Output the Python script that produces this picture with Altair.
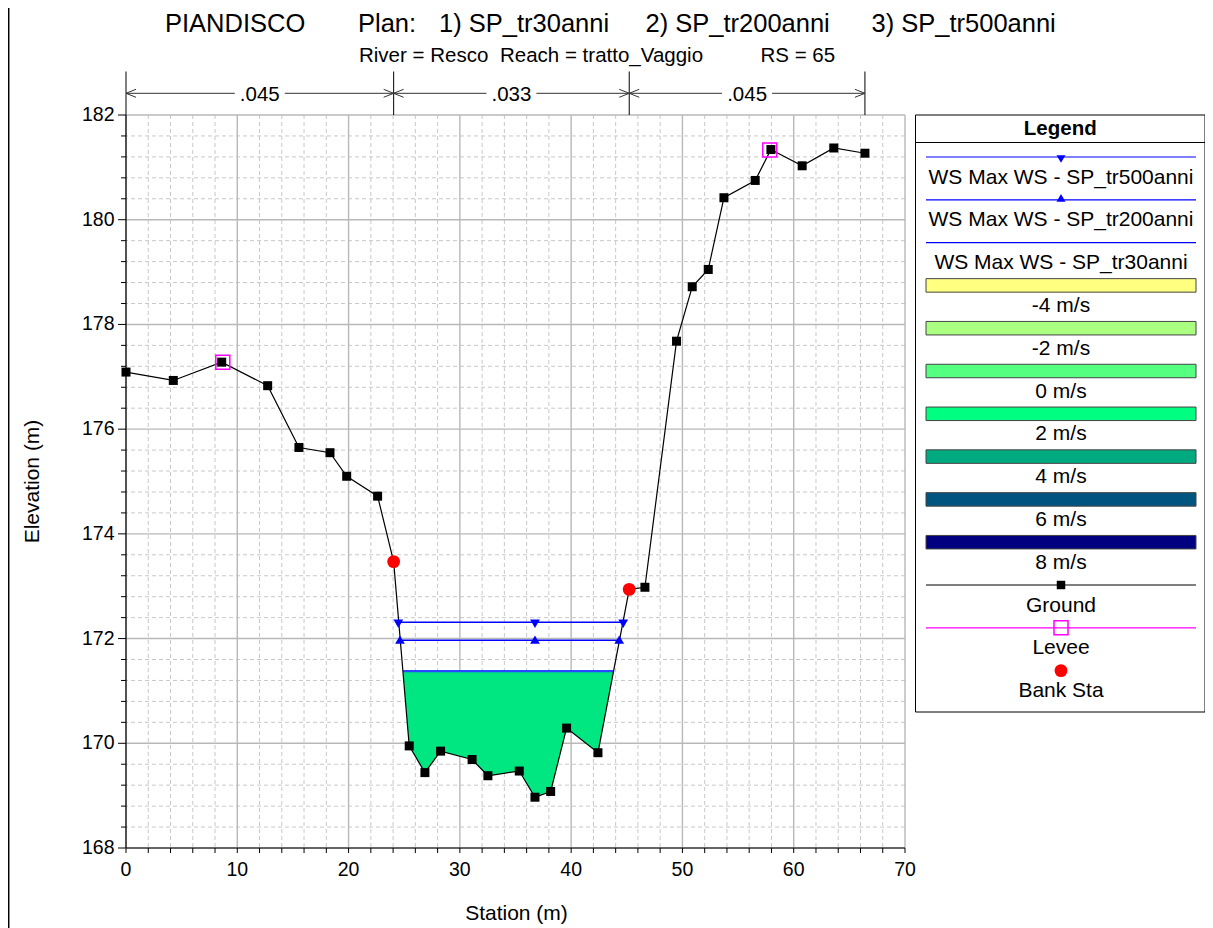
import altair as alt
import pandas as pd

FONT = "Liberation Sans"

# ---------------- data ----------------
ground_station = [0.0, 4.25, 8.6, 12.73, 15.54, 18.33, 19.83, 22.61, 24.05, 25.45,
                  26.86, 28.27, 31.1, 32.52, 35.34, 36.75, 38.16, 39.59, 42.41, 45.22,
                  46.63, 49.47, 50.88, 52.32, 53.73, 56.54, 57.95, 60.76, 63.6, 66.4]
ground_elev = [177.09, 176.93, 177.28, 176.83, 175.65, 175.55, 175.10, 174.72, 173.47, 169.95,
               169.44, 169.85, 169.69, 169.38, 169.47, 168.97, 169.08, 170.29, 169.82, 172.94,
               172.98, 177.68, 178.72, 179.05, 180.42, 180.75, 181.34, 181.03, 181.37, 181.27]
levee_station = [8.7, 57.85]
levee_elev = [177.28, 181.33]
bank_station = [24.05, 45.22]
bank_elev = [173.47, 172.94]
ws_profiles = ["SP_tr30anni", "SP_tr200anni", "SP_tr500anni"]
ws_elev = [171.38, 171.97, 172.31]
ws_left = [24.9, 24.62, 24.47]
ws_right = [43.8, 44.32, 44.68]
ws_marker_mid = 36.75
n_bounds = [0.0, 24.05, 45.22, 66.4]
n_values = [".045", ".033", ".045"]
x_ticks = [0, 10, 20, 30, 40, 50, 60, 70]
y_ticks = [168, 170, 172, 174, 176, 178, 180, 182]
x_minor = [v for v in range(0, 71, 2) if v % 10 != 0]
y_minor = [round(168 + 0.4 * i, 1) for i in range(36) if i % 5 != 0]
velocity_labels = ["-4 m/s", "-2 m/s", "0 m/s", "2 m/s", "4 m/s", "6 m/s", "8 m/s"]
velocity_colors = ["#FFFF80", "#AAFF80", "#55FF80", "#00FF80", "#00AA80", "#005580", "#000080"]
title_parts = ["PIANDISCO", "Plan:", "1) SP_tr30anni", "2) SP_tr200anni", "3) SP_tr500anni"]
subtitle_parts = ["River = Resco", "Reach = tratto_Vaggio", "RS = 65"]
x_title = "Station (m)"
y_title = "Elevation (m)"

# ---------------- layout (pixels, relative to plot origin) ----------------
W, H = 779, 733
PAD = {"left": 118, "top": 107, "right": 300, "bottom": 80}
title_x = [39, 232, 313, 519.5, 745.5]
subtitle_x = [233, 374, 634.5]

xs = alt.Scale(domain=[0, 70], nice=False, zero=False)
ys = alt.Scale(domain=[168, 182], nice=False, zero=False)

one = pd.DataFrame({"a": [0]})


def X(f):
    return alt.X(f, scale=xs, axis=None)


def Y(f):
    return alt.Y(f, scale=ys, axis=None)


def PX(f):
    return alt.X(f, scale=None, axis=None)


def PY(f):
    return alt.Y(f, scale=None, axis=None)


# ---------------- grid ----------------
gx_minor = alt.Chart(pd.DataFrame({"v": x_minor})).mark_rule(
    color="#c8c8c8", strokeDash=[4, 3], strokeWidth=1).encode(x=X("v:Q"))
gy_minor = alt.Chart(pd.DataFrame({"v": y_minor})).mark_rule(
    color="#c8c8c8", strokeDash=[4, 3], strokeWidth=1).encode(y=Y("v:Q"))
gx_major = alt.Chart(pd.DataFrame({"v": x_ticks})).mark_rule(
    color="#b8b8b8", strokeWidth=1.4).encode(x=X("v:Q"))
gy_major = alt.Chart(pd.DataFrame({"v": y_ticks})).mark_rule(
    color="#b8b8b8", strokeWidth=1.4).encode(y=Y("v:Q"))

# ---------------- axes (drawn by hand) ----------------
tx_minor = alt.Chart(pd.DataFrame({"v": x_minor + x_ticks})).mark_rule(color="black").encode(
    x=X("v:Q"), y=alt.value(H), y2=alt.value(H + 5))
ty_minor = alt.Chart(pd.DataFrame({"v": y_minor})).mark_rule(color="black").encode(
    y=Y("v:Q"), x=alt.value(-5), x2=alt.value(0))
ty_major = alt.Chart(pd.DataFrame({"v": y_ticks})).mark_rule(color="black").encode(
    y=Y("v:Q"), x=alt.value(-8), x2=alt.value(0))
x_domain = alt.Chart(one).mark_rule(color="black", strokeWidth=1.2).encode(
    x=alt.value(0), x2=alt.value(W), y=alt.value(H))
y_domain = alt.Chart(one).mark_rule(color="black", strokeWidth=1.2).encode(
    x=alt.value(0), y=alt.value(0), y2=alt.value(H))
x_labels = alt.Chart(pd.DataFrame({"v": x_ticks})).mark_text(
    font=FONT, fontSize=19.5, color="black", align="center", baseline="top").encode(
    x=X("v:Q"), y=alt.value(H + 12.5), text=alt.Text("v:Q", format="d"))
y_labels = alt.Chart(pd.DataFrame({"v": y_ticks})).mark_text(
    font=FONT, fontSize=19.5, color="black", align="right", baseline="middle").encode(
    y=Y("v:Q"), x=alt.value(-11.5), text=alt.Text("v:Q", format="d"))
x_tit = alt.Chart(pd.DataFrame({"t": [x_title]})).mark_text(
    font=FONT, fontSize=21, color="black", align="center", baseline="middle").encode(
    x=alt.value(W / 2 + 1), y=alt.value(799), text="t:N")
y_tit = alt.Chart(pd.DataFrame({"t": [y_title]})).mark_text(
    font=FONT, fontSize=21, color="black", align="center", baseline="middle", angle=270).encode(
    x=alt.value(-93.5), y=alt.value(H / 2), text="t:N")

# ---------------- water ----------------
ground_df = pd.DataFrame({"station": ground_station, "elev": ground_elev,
                          "i": list(range(len(ground_station)))})

fill_st = [ws_left[0]] + [s for s in ground_station if ws_left[0] < s < ws_right[0]] + [ws_right[0]]
fill_el = [ws_elev[0]] + [e for s, e in zip(ground_station, ground_elev) if ws_left[0] < s < ws_right[0]] + [ws_elev[0]]
fill_df = pd.DataFrame({"station": fill_st, "elev": fill_el, "ws": [ws_elev[0]] * len(fill_st)})

fill = alt.Chart(fill_df).mark_area(color="#00E680", opacity=1).encode(
    x=X("station:Q"), y=Y("elev:Q"), y2="ws:Q")

ws_df = pd.DataFrame({"plan": ws_profiles, "elev": ws_elev, "left": ws_left, "right": ws_right})
ws_thin = alt.Chart(ws_df[ws_df.plan != "SP_tr30anni"]).mark_rule(
    color="#0000FF", strokeWidth=1.5).encode(x=X("left:Q"), x2="right:Q", y=Y("elev:Q"))
ws_30 = alt.Chart(ws_df[ws_df.plan == "SP_tr30anni"]).mark_rule(
    color="#2a48ff", strokeWidth=2.2).encode(x=X("left:Q"), x2="right:Q", y=Y("elev:Q"))

m500 = pd.DataFrame({"station": [ws_left[2], ws_marker_mid, ws_right[2]], "elev": [ws_elev[2]] * 3})
m200 = pd.DataFrame({"station": [ws_left[1], ws_marker_mid, ws_right[1]], "elev": [ws_elev[1]] * 3})
mk500 = alt.Chart(m500).mark_point(shape="triangle-down", filled=True, color="#0000FF",
                                   size=95, opacity=1, yOffset=1.5).encode(
    x=X("station:Q"), y=Y("elev:Q"))
mk200 = alt.Chart(m200).mark_point(shape="triangle-up", filled=True, color="#0000FF",
                                   size=95, opacity=1, yOffset=-0.5).encode(
    x=X("station:Q"), y=Y("elev:Q"))

# ---------------- ground, levee, banks ----------------
ground_line = alt.Chart(ground_df).mark_line(color="black", strokeWidth=1.2).encode(
    x=X("station:Q"), y=Y("elev:Q"), order="i:Q")
ground_pts = alt.Chart(ground_df).mark_square(color="black", size=81, opacity=1).encode(
    x=X("station:Q"), y=Y("elev:Q"))
levee = alt.Chart(pd.DataFrame({"station": levee_station, "elev": levee_elev})).mark_square(
    filled=False, color="#FF00FF", size=196, strokeWidth=1.5, opacity=1).encode(
    x=X("station:Q"), y=Y("elev:Q"))
bank = alt.Chart(pd.DataFrame({"station": bank_station, "elev": bank_elev})).mark_circle(
    color="#FF0000", size=165, opacity=1).encode(x=X("station:Q"), y=Y("elev:Q"))

# ---------------- Manning's n annotation ----------------
nb_df = pd.DataFrame({"station": n_bounds})
n_df = pd.DataFrame({"start": n_bounds[:-1], "end": n_bounds[1:], "n": n_values})
n_df["mid"] = (n_df["start"] + n_df["end"]) / 2

n_vert = alt.Chart(nb_df).mark_rule(color="black", strokeWidth=1).encode(
    x=X("station:Q"), y=alt.value(-43.5), y2=alt.value(0))
n_left = alt.Chart(n_df).mark_rule(color="#333333", strokeWidth=1, x2Offset=-25).encode(
    x=X("start:Q"), x2="mid:Q", y=alt.value(-21.7))
n_right = alt.Chart(n_df).mark_rule(color="#333333", strokeWidth=1, xOffset=25).encode(
    x=X("mid:Q"), x2="end:Q", y=alt.value(-21.7))
head_l = alt.Chart(n_df).mark_point(shape="M0,0L1,-0.4M0,0L1,0.4", filled=False,
                                    color="#333333", size=400, strokeWidth=1, opacity=1).encode(
    x=X("start:Q"), y=alt.value(-21.7))
head_r = alt.Chart(n_df).mark_point(shape="M0,0L-1,-0.4M0,0L-1,0.4", filled=False,
                                    color="#333333", size=400, strokeWidth=1, opacity=1).encode(
    x=X("end:Q"), y=alt.value(-21.7))
n_text = alt.Chart(n_df).mark_text(font=FONT, fontSize=20.5, color="black", align="center",
                                   baseline="alphabetic").encode(
    x=X("mid:Q"), y=alt.value(-14), text="n:N")

# ---------------- titles ----------------
t_df = pd.DataFrame({"t": title_parts, "px": title_x, "py": [-83.5] * len(title_parts)})
s_df = pd.DataFrame({"t": subtitle_parts, "px": subtitle_x, "py": [-53.3] * len(subtitle_parts)})
title = alt.Chart(t_df).mark_text(font=FONT, fontSize=25.5, color="black", align="left",
                                  baseline="alphabetic").encode(
    x=PX("px:Q"), y=PY("py:Q"), text="t:N")
subtitle = alt.Chart(s_df).mark_text(font=FONT, fontSize=20.5, color="black", align="left",
                                     baseline="alphabetic").encode(
    x=PX("px:Q"), y=PY("py:Q"), text="t:N")

# ---------------- legend ----------------
LX0, LX1 = 789.5, 1079
RX0, RX1 = 800, 1070
LCX = (RX0 + RX1) / 2
row_y = [42 + 42.8 * k for k in range(13)]
leg_labels = ["WS Max WS - " + ws_profiles[2], "WS Max WS - " + ws_profiles[1],
              "WS Max WS - " + ws_profiles[0]] + velocity_labels + ["Ground", "Levee", "Bank Sta"]

leg_box = alt.Chart(one).mark_rect(fill="white", stroke="black", strokeWidth=1).encode(
    x=alt.value(LX0), x2=alt.value(LX1), y=alt.value(0), y2=alt.value(597))
leg_sep = alt.Chart(one).mark_rule(color="black", strokeWidth=1).encode(
    x=alt.value(LX0), x2=alt.value(LX1), y=alt.value(27.5))
leg_title = alt.Chart(pd.DataFrame({"t": ["Legend"]})).mark_text(
    font=FONT, fontSize=20.5, fontWeight="bold", color="black", align="center",
    baseline="alphabetic").encode(x=alt.value((LX0 + LX1) / 2), y=alt.value(20), text="t:N")

lt_df = pd.DataFrame({"t": leg_labels, "py": [y + 26.5 for y in row_y]})
leg_text = alt.Chart(lt_df).mark_text(font=FONT, fontSize=21, color="black", align="center",
                                      baseline="alphabetic").encode(
    x=alt.value(LCX), y=PY("py:Q"), text="t:N")

lr_df = pd.DataFrame({"py": row_y[0:3], "c": ["#0000FF"] * 3})
leg_ws = alt.Chart(lr_df).mark_rule(strokeWidth=1.2).encode(
    x=alt.value(RX0), x2=alt.value(RX1), y=PY("py:Q"), color=alt.Color("c:N", scale=None))
leg_tri_d = alt.Chart(pd.DataFrame({"py": [row_y[0] + 2]})).mark_point(
    shape="triangle-down", filled=True, color="#0000FF", size=80, opacity=1).encode(
    x=alt.value(LCX), y=PY("py:Q"))
leg_tri_u = alt.Chart(pd.DataFrame({"py": [row_y[1] - 2]})).mark_point(
    shape="triangle-up", filled=True, color="#0000FF", size=80, opacity=1).encode(
    x=alt.value(LCX), y=PY("py:Q"))

vr_df = pd.DataFrame({"y0": [row_y[3 + k] - 6.75 for k in range(7)],
                      "y1": [row_y[3 + k] + 6.75 for k in range(7)],
                      "c": velocity_colors})
leg_rects = alt.Chart(vr_df).mark_rect(stroke="#444444", strokeWidth=1).encode(
    x=alt.value(RX0), x2=alt.value(RX1), y=PY("y0:Q"), y2="y1:Q",
    fill=alt.Fill("c:N", scale=None))

gl_df = pd.DataFrame({"py": [row_y[10], row_y[11]], "c": ["black", "#FF00FF"]})
leg_gl = alt.Chart(gl_df).mark_rule(strokeWidth=1.2).encode(
    x=alt.value(RX0), x2=alt.value(RX1), y=PY("py:Q"), color=alt.Color("c:N", scale=None))
leg_gsq = alt.Chart(pd.DataFrame({"py": [row_y[10]]})).mark_square(
    color="black", size=72, opacity=1).encode(x=alt.value(LCX), y=PY("py:Q"))
leg_lsq = alt.Chart(pd.DataFrame({"py": [row_y[11]]})).mark_square(
    filled=False, color="#FF00FF", size=196, strokeWidth=1.5, opacity=1).encode(
    x=alt.value(LCX), y=PY("py:Q"))
leg_bank = alt.Chart(pd.DataFrame({"py": [row_y[12]]})).mark_circle(
    color="#FF0000", size=165, opacity=1).encode(x=alt.value(LCX), y=PY("py:Q"))

frame = alt.Chart(one).mark_rule(color="black", strokeWidth=1.5).encode(
    x=alt.value(-117.3), y=alt.value(-107), y2=alt.value(H + PAD["bottom"]))

chart = alt.layer(
    gx_minor, gy_minor, gx_major, gy_major,
    fill, ws_thin, ws_30, ground_line, ground_pts, mk500, mk200, levee, bank,
    tx_minor, ty_minor, ty_major, x_domain, y_domain, x_labels, y_labels, x_tit, y_tit,
    n_vert, n_left, n_right, head_l, head_r, n_text,
    title, subtitle,
    leg_box, leg_sep, leg_title, leg_ws, leg_tri_d, leg_tri_u, leg_rects, leg_gl,
    leg_gsq, leg_lsq, leg_bank, leg_text,
    frame,
).properties(
    width=W, height=H, padding=PAD, autosize=alt.AutoSizeParams(type="none"),
    background="white",
).configure_view(strokeWidth=0)

chart.save("out.html", embed_options={"renderer": "svg", "actions": False})
